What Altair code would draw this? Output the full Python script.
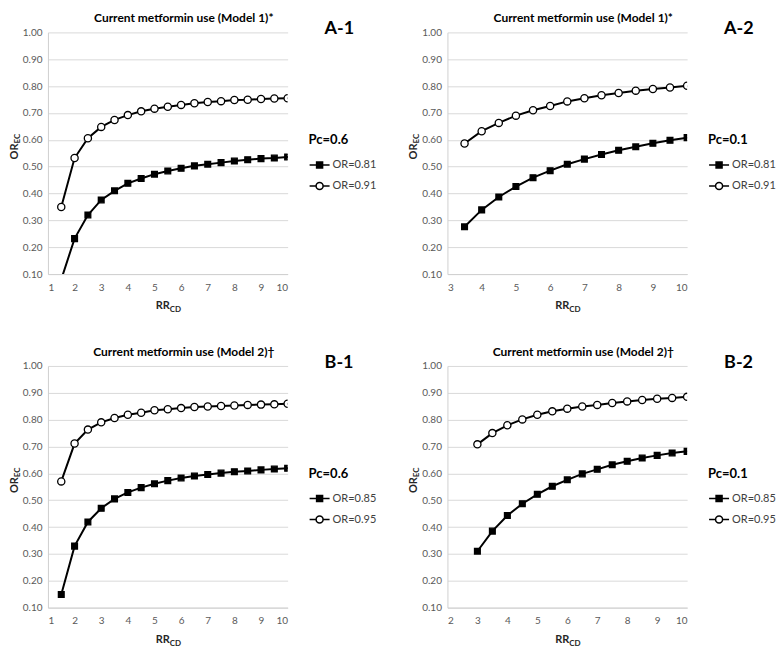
import altair as alt
import pandas as pd

FONT = "Lato"

# ---------------- data ----------------
# Panel A-1: Model 1, Pc=0.6
a1_x = [1.5, 2, 2.5, 3, 3.5, 4, 4.5, 5, 5.5, 6, 6.5, 7, 7.5, 8, 8.5, 9, 9.5, 10]
a1_or_low = [0.08, 0.232, 0.320, 0.376, 0.410, 0.438, 0.456, 0.472, 0.484, 0.494,
             0.503, 0.509, 0.515, 0.521, 0.526, 0.530, 0.532, 0.536]
a1_or_high = [0.350, 0.532, 0.606, 0.648, 0.674, 0.692, 0.706, 0.716, 0.723, 0.730,
              0.736, 0.741, 0.744, 0.748, 0.749, 0.752, 0.754, 0.755]

# Panel A-2: Model 1, Pc=0.1
a2_x = [3.5, 4, 4.5, 5, 5.5, 6, 6.5, 7, 7.5, 8, 8.5, 9, 9.5, 10]
a2_or_low = [0.276, 0.339, 0.387, 0.426, 0.459, 0.485, 0.509, 0.528, 0.545, 0.561,
             0.574, 0.587, 0.598, 0.608]
a2_or_high = [0.586, 0.632, 0.663, 0.690, 0.710, 0.726, 0.743, 0.755, 0.766, 0.774,
              0.783, 0.789, 0.795, 0.801]

# Panel B-1: Model 2, Pc=0.6
b1_x = [1.5, 2, 2.5, 3, 3.5, 4, 4.5, 5, 5.5, 6, 6.5, 7, 7.5, 8, 8.5, 9, 9.5, 10]
b1_or_low = [0.149, 0.329, 0.419, 0.470, 0.505, 0.529, 0.547, 0.561, 0.573, 0.583,
             0.590, 0.596, 0.601, 0.606, 0.609, 0.613, 0.616, 0.619]
b1_or_high = [0.570, 0.711, 0.763, 0.790, 0.806, 0.818, 0.826, 0.835, 0.839, 0.843,
              0.847, 0.849, 0.851, 0.853, 0.855, 0.856, 0.857, 0.859]

# Panel B-2: Model 2, Pc=0.1
b2_x = [3, 3.5, 4, 4.5, 5, 5.5, 6, 6.5, 7, 7.5, 8, 8.5, 9, 9.5, 10]
b2_or_low = [0.310, 0.385, 0.443, 0.487, 0.522, 0.552, 0.576, 0.598, 0.615, 0.632,
             0.645, 0.657, 0.667, 0.676, 0.682]
b2_or_high = [0.708, 0.750, 0.779, 0.801, 0.818, 0.831, 0.841, 0.849, 0.855, 0.862,
              0.868, 0.873, 0.878, 0.881, 0.885]

y_ticks = [0.1, 0.2, 0.3, 0.4, 0.5, 0.6, 0.7, 0.8, 0.9, 1.0]
labels_model1 = ["OR=0.81", "OR=0.91"]
labels_model2 = ["OR=0.85", "OR=0.95"]
title_model1 = "Current metformin use (Model 1)*"
title_model2 = "Current metformin use (Model 2)†"

# ---------------- layout / style ----------------
W, H = 240, 242
PT_SQUARE = "M-0.8,-0.8H0.8V0.8H-0.8Z"
LEG_SQ = "M-1,0H1M-0.3,-0.3H0.3V0.3H-0.3Z"
LEG_CI = ("M-1,0H-0.35M0.35,0H1M-0.35,0A0.35,0.35,0,1,0,0.35,0"
          "A0.35,0.35,0,1,0,-0.35,0Z")


def text_layer(txt, x, y, size, angle=0, align="left", baseline="alphabetic",
               dx=0, dy=0, color="#262626"):
    return alt.Chart(pd.DataFrame({"t": [txt]})).mark_text(
        font=FONT, fontSize=size, fontWeight="bold", align=align, baseline=baseline,
        angle=angle, dx=dx, dy=dy, color=color
    ).encode(x=alt.value(x), y=alt.value(y), text="t:N")


def panel(xs, low, high, labels, pc, title, tag, xmin):
    df = pd.DataFrame({
        "x": xs + xs,
        "y": low + high,
        "series": [labels[0]] * len(xs) + [labels[1]] * len(xs),
    })
    enc_x = alt.X("x:Q", scale=alt.Scale(domain=[xmin, 10], nice=False, zero=False),
                  axis=alt.Axis(values=list(range(xmin, 11)), format="d", title=None,
                                grid=False, ticks=False, labelPadding=8))
    enc_y = alt.Y("y:Q", scale=alt.Scale(domain=[0.1, 1.0], nice=False, zero=False),
                  axis=alt.Axis(values=y_ticks, format=".2f", title=None, grid=True,
                                ticks=False, labelPadding=6))
    base = alt.Chart(df).encode(x=enc_x, y=enc_y)
    leg_props = dict(
        title=pc, orient="none", legendX=W + 21, legendY=H * 0.40 + 5, direction="vertical",
        symbolSize=400, symbolStrokeWidth=1.5, symbolStrokeColor="black", symbolOpacity=1,
        labelFont=FONT, labelFontSize=11, labelColor="#404040", labelOffset=2,
        titleFont=FONT, titleFontSize=13, titleFontWeight="bold", titleColor="black",
        titlePadding=7, rowPadding=4, padding=0,
    )
    # legend carrier: tiny marks hidden under the real markers
    leg = base.mark_point(filled=True, stroke="black", strokeWidth=1.5, size=1,
                          opacity=1, clip=True).encode(
        shape=alt.Shape("series:N", scale=alt.Scale(domain=labels, range=[LEG_SQ, LEG_CI]),
                        legend=alt.Legend(**leg_props)),
        fill=alt.Fill("series:N", scale=alt.Scale(domain=labels, range=["black", "white"]),
                      legend=alt.Legend(**leg_props)),
        stroke=alt.Stroke("series:N", scale=alt.Scale(domain=labels, range=["black", "black"]),
                          legend=alt.Legend(**leg_props)),
    )
    line = base.mark_line(color="black", strokeWidth=2, clip=True).encode(detail="series:N")
    pts = base.mark_point(filled=True, stroke="black", strokeWidth=1.3, size=52,
                          opacity=1, clip=True).encode(
        shape=alt.Shape("series:N", scale=alt.Scale(domain=labels, range=[PT_SQUARE, "circle"]),
                        legend=None),
        fill=alt.Fill("series:N", scale=alt.Scale(domain=labels, range=["black", "white"]),
                      legend=None),
    )
    ttl = text_layer(title, W / 2 + 16, -10, 12, align="center", color="black")
    tag_t = text_layer(tag, W + 37, 2, 18, color="black")
    rr = text_layer("RR", W / 2 + 2, H + 35, 11, align="right")
    cd = text_layer("CD", W / 2 + 2, H + 38, 8, align="left")
    orr = text_layer("OR", -33, H * 0.46, 11, angle=270, align="right", baseline="middle")
    ec = text_layer("EC", -33, H * 0.46, 8, angle=270, align="left", baseline="middle", dy=3)
    return alt.layer(leg, line, pts, ttl, tag_t, rr, cd, orr, ec).resolve_scale(
        shape="independent", fill="independent", stroke="independent"
    ).properties(width=W, height=H)


a1 = panel(a1_x, a1_or_low, a1_or_high, labels_model1, "Pc=0.6", title_model1, "A-1", 1)
a2 = panel(a2_x, a2_or_low, a2_or_high, labels_model1, "Pc=0.1", title_model1, "A-2", 3)
b1 = panel(b1_x, b1_or_low, b1_or_high, labels_model2, "Pc=0.6", title_model2, "B-1", 1)
b2 = panel(b2_x, b2_or_low, b2_or_high, labels_model2, "Pc=0.1", title_model2, "B-2", 2)

chart = alt.concat(
    a1, a2, b1, b2, columns=2, spacing={"row": 92, "column": 160}, bounds="flush"
).resolve_scale(
    shape="independent", fill="independent", stroke="independent",
    x="independent", y="independent"
).resolve_legend(
    shape="independent", fill="independent", stroke="independent"
).properties(
    padding={"top": 4, "left": 0, "right": 0, "bottom": 0}
).configure_view(stroke=None).configure_axis(
    domainColor="#d0d0d0", gridColor="#d9d9d9", labelColor="#595959",
    labelFont=FONT, labelFontSize=10,
)

chart.save("out.html", embed_options={"renderer": "svg", "actions": False})
